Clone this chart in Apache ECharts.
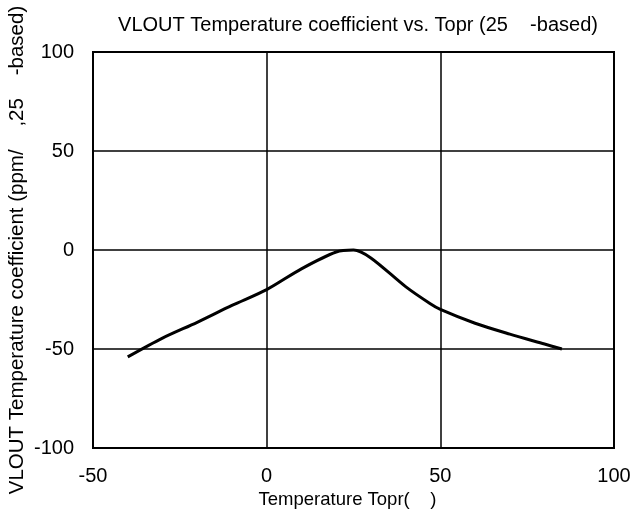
<!DOCTYPE html>
<html><head><meta charset="utf-8">
<script src="https://cdn.jsdelivr.net/npm/echarts@6/dist/echarts.min.js"></script>
<style>html,body{margin:0;padding:0;background:#fff}#c{width:630px;height:516px}</style>
</head><body><div id="c"></div>
<script>
var titleText = 'VLOUT Temperature coefficient vs. Topr (25    -based)';
var xName = 'Temperature Topr(    )';
var yName = 'VLOUT Temperature coefficient (ppm/    ,25    -based)';
var temps = [-40, -30, -20, -10, 0, 10, 20, 25, 30, 40, 47, 50, 60, 70, 80, 85];
var coef  = [-54, -44.5, -36.5, -28, -20, -9.5, -1, 0, -4, -18.5, -27, -30, -37, -42.5, -47.5, -50];
var xMin = -50, xMax = 100, xStep = 50;
var yMin = -100, yMax = 100, yStep = 50;

var chart = echarts.init(document.getElementById('c'), null, {renderer: 'canvas'});
var font = 'Liberation Sans, Arial, sans-serif';
chart.setOption({
  animation: false,
  title: {text: titleText, left: 353, top: 10, textAlign: 'center',
    textStyle: {fontFamily: font, fontSize: 20, fontWeight: 'normal', color: '#000'}},
  grid: {left: 93, right: 16, top: 52, bottom: 68, show: true, borderColor: '#000', borderWidth: 2,
    containLabel: false, outerBoundsMode: 'none'},
  xAxis: {type: 'value', min: xMin, max: xMax, interval: xStep,
    name: xName, nameLocation: 'middle', nameGap: 42, nameMoveOverlap: false,
    nameTextStyle: {fontFamily: font, fontSize: 18.5, color: '#000', padding: [0, 12, 0, 0]},
    axisLine: {show: false}, axisTick: {show: false},
    axisLabel: {fontFamily: font, fontSize: 20, color: '#000', margin: 18},
    splitLine: {lineStyle: {color: '#000', width: 1.5}}},
  yAxis: {type: 'value', min: yMin, max: yMax, interval: yStep,
    name: yName, nameLocation: 'middle', nameGap: 65, nameRotate: 90, nameMoveOverlap: false,
    nameTextStyle: {fontFamily: font, fontSize: 20.5, color: '#000'},
    axisLine: {show: false}, axisTick: {show: false},
    axisLabel: {fontFamily: font, fontSize: 20, color: '#000', margin: 19},
    splitLine: {lineStyle: {color: '#000', width: 1.5}}},
  series: [{type: 'line', data: temps.map(function(t, i){return [t, coef[i]];}),
    smooth: 0.3, showSymbol: false, lineStyle: {color: '#000', width: 3}}]
});
</script></body></html>
